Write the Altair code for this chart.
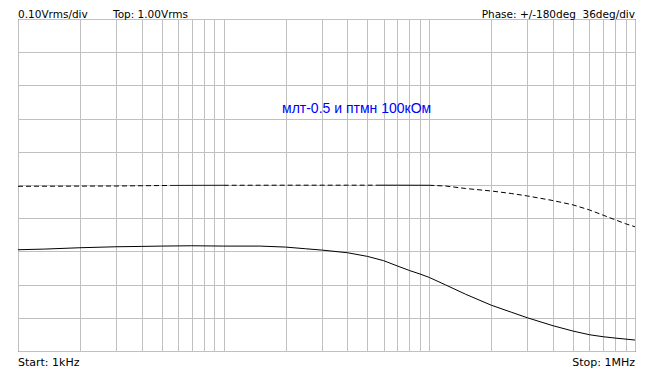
import altair as alt
import pandas as pd

# Amplitude curve (Vrms) vs frequency (Hz)
amp_freq = [1000, 1350, 2000, 3000, 4000, 5000, 7000, 10000, 15000, 20000, 25000,
            30000, 40000, 50000, 60000, 70000, 80000, 90000, 100000, 120000, 150000,
            200000, 250000, 300000, 400000, 500000, 600000, 700000, 800000, 1000000]
amp_vrms = [0.305, 0.307, 0.311, 0.314, 0.315, 0.316, 0.317, 0.316, 0.316, 0.313, 0.308,
            0.304, 0.296, 0.285, 0.272, 0.256, 0.2425, 0.232, 0.2215, 0.199, 0.171,
            0.138, 0.117, 0.100, 0.076, 0.060, 0.049, 0.043, 0.039, 0.033]

# Phase curve (deg) vs frequency (Hz)
ph_freq = [1000, 2000, 3000, 4000, 5500, 7000, 10000, 20000, 30000, 40000, 55000,
           70000, 100000, 120000, 150000, 200000, 250000, 300000, 400000, 500000,
           600000, 700000, 800000, 900000, 1000000]
ph_deg = [-1.4, -1.2, -1.1, -0.8, -0.5, -0.4, -0.3, -0.2, -0.2, -0.2, -0.2,
          -0.2, -0.3, -1.1, -3.8, -6.5, -9.2, -11.9, -16.9, -21.6,
          -27.0, -32.7, -37.7, -42.0, -45.3]
# drawn segments of the phase trace: (start freq, end freq, style)
ph_segments = [(1000, 5500, "dash"), (5500, 10000, "solid"), (10000, 55000, "dash"),
               (55000, 100000, "solid"), (100000, 1000000, "dash")]

grid_freqs = [1000, 2000, 3000, 4000, 5000, 6000, 7000, 8000, 9000,
              10000, 20000, 30000, 40000, 50000, 60000, 70000, 80000, 90000,
              100000, 200000, 300000, 400000, 500000, 600000, 700000, 800000, 900000, 1000000]
grid_vrms = [0.0, 0.1, 0.2, 0.3, 0.4, 0.5, 0.6, 0.7, 0.8, 0.9, 1.0]

header_left = "0.10Vrms/div"
header_mid = "Top: 1.00Vrms"
header_right = "Phase: +/-180deg\u00a0 36deg/div"
footer_left = "Start: 1kHz"
footer_right = "Stop: 1MHz"
note = "млт-0.5 и птмн 100кОм"

amp_df = pd.DataFrame({"f": amp_freq, "v": amp_vrms})
rows = []
for i, (a, b, st) in enumerate(ph_segments):
    for f, d in zip(ph_freq, ph_deg):
        if a <= f <= b:
            rows.append({"f": f, "deg": d, "seg": i, "style": st})
ph_df = pd.DataFrame(rows)

W, H = 617, 332
FONT = "DejaVu Sans"

xscale = alt.Scale(type="log", domain=[1000, 1000000], nice=False)
xaxis = alt.Axis(values=grid_freqs, grid=True, gridColor="#c0c0c0", gridWidth=1,
                 labels=False, ticks=False, domain=False, title=None)
yaxis = alt.Axis(values=grid_vrms, grid=True, gridColor="#c0c0c0", gridWidth=1,
                 labels=False, ticks=False, domain=False, title=None)

amp = alt.Chart(amp_df).mark_line(color="black", strokeWidth=1).encode(
    x=alt.X("f:Q", scale=xscale, axis=xaxis),
    y=alt.Y("v:Q", scale=alt.Scale(domain=[0, 1], nice=False, zero=False), axis=yaxis),
)

phase = alt.Chart(ph_df).mark_line(color="black", strokeWidth=1).encode(
    x=alt.X("f:Q", scale=xscale, axis=xaxis),
    y=alt.Y("deg:Q", scale=alt.Scale(domain=[-180, 180], nice=False, zero=False), axis=None),
    detail="seg:N",
    strokeDash=alt.StrokeDash("style:N", scale=alt.Scale(domain=["dash", "solid"],
                                                          range=[[5, 3], [1, 0]]), legend=None),
)

def label(txt, x, y, align="left", color="black", size=10.5, font=FONT):
    return alt.Chart(pd.DataFrame({"t": [txt]})).mark_text(
        align=align, baseline="alphabetic", font=font, fontSize=size, color=color
    ).encode(text="t:N", x=alt.value(x), y=alt.value(y))

texts = [
    label(header_left, 0, -1),
    label(header_mid, 95, -1),
    label(header_right, W, -1, align="right"),
    label(footer_left, 0, H + 15, size=11),
    label(footer_right, W, H + 15, align="right", size=11),
    label(note, 264, 94, color="#0000ff", size=14, font="Liberation Sans"),
]

chart = alt.layer(amp, phase, *texts).resolve_scale(y="independent").properties(
    width=W, height=H,
    padding={"left": 10, "top": 11, "right": 10, "bottom": 20},
    autosize=alt.AutoSizeParams(type="none"),
    background="white",
).configure_view(stroke="black", strokeWidth=1)

chart.save("out.html", embed_options={"renderer": "svg", "actions": False})
